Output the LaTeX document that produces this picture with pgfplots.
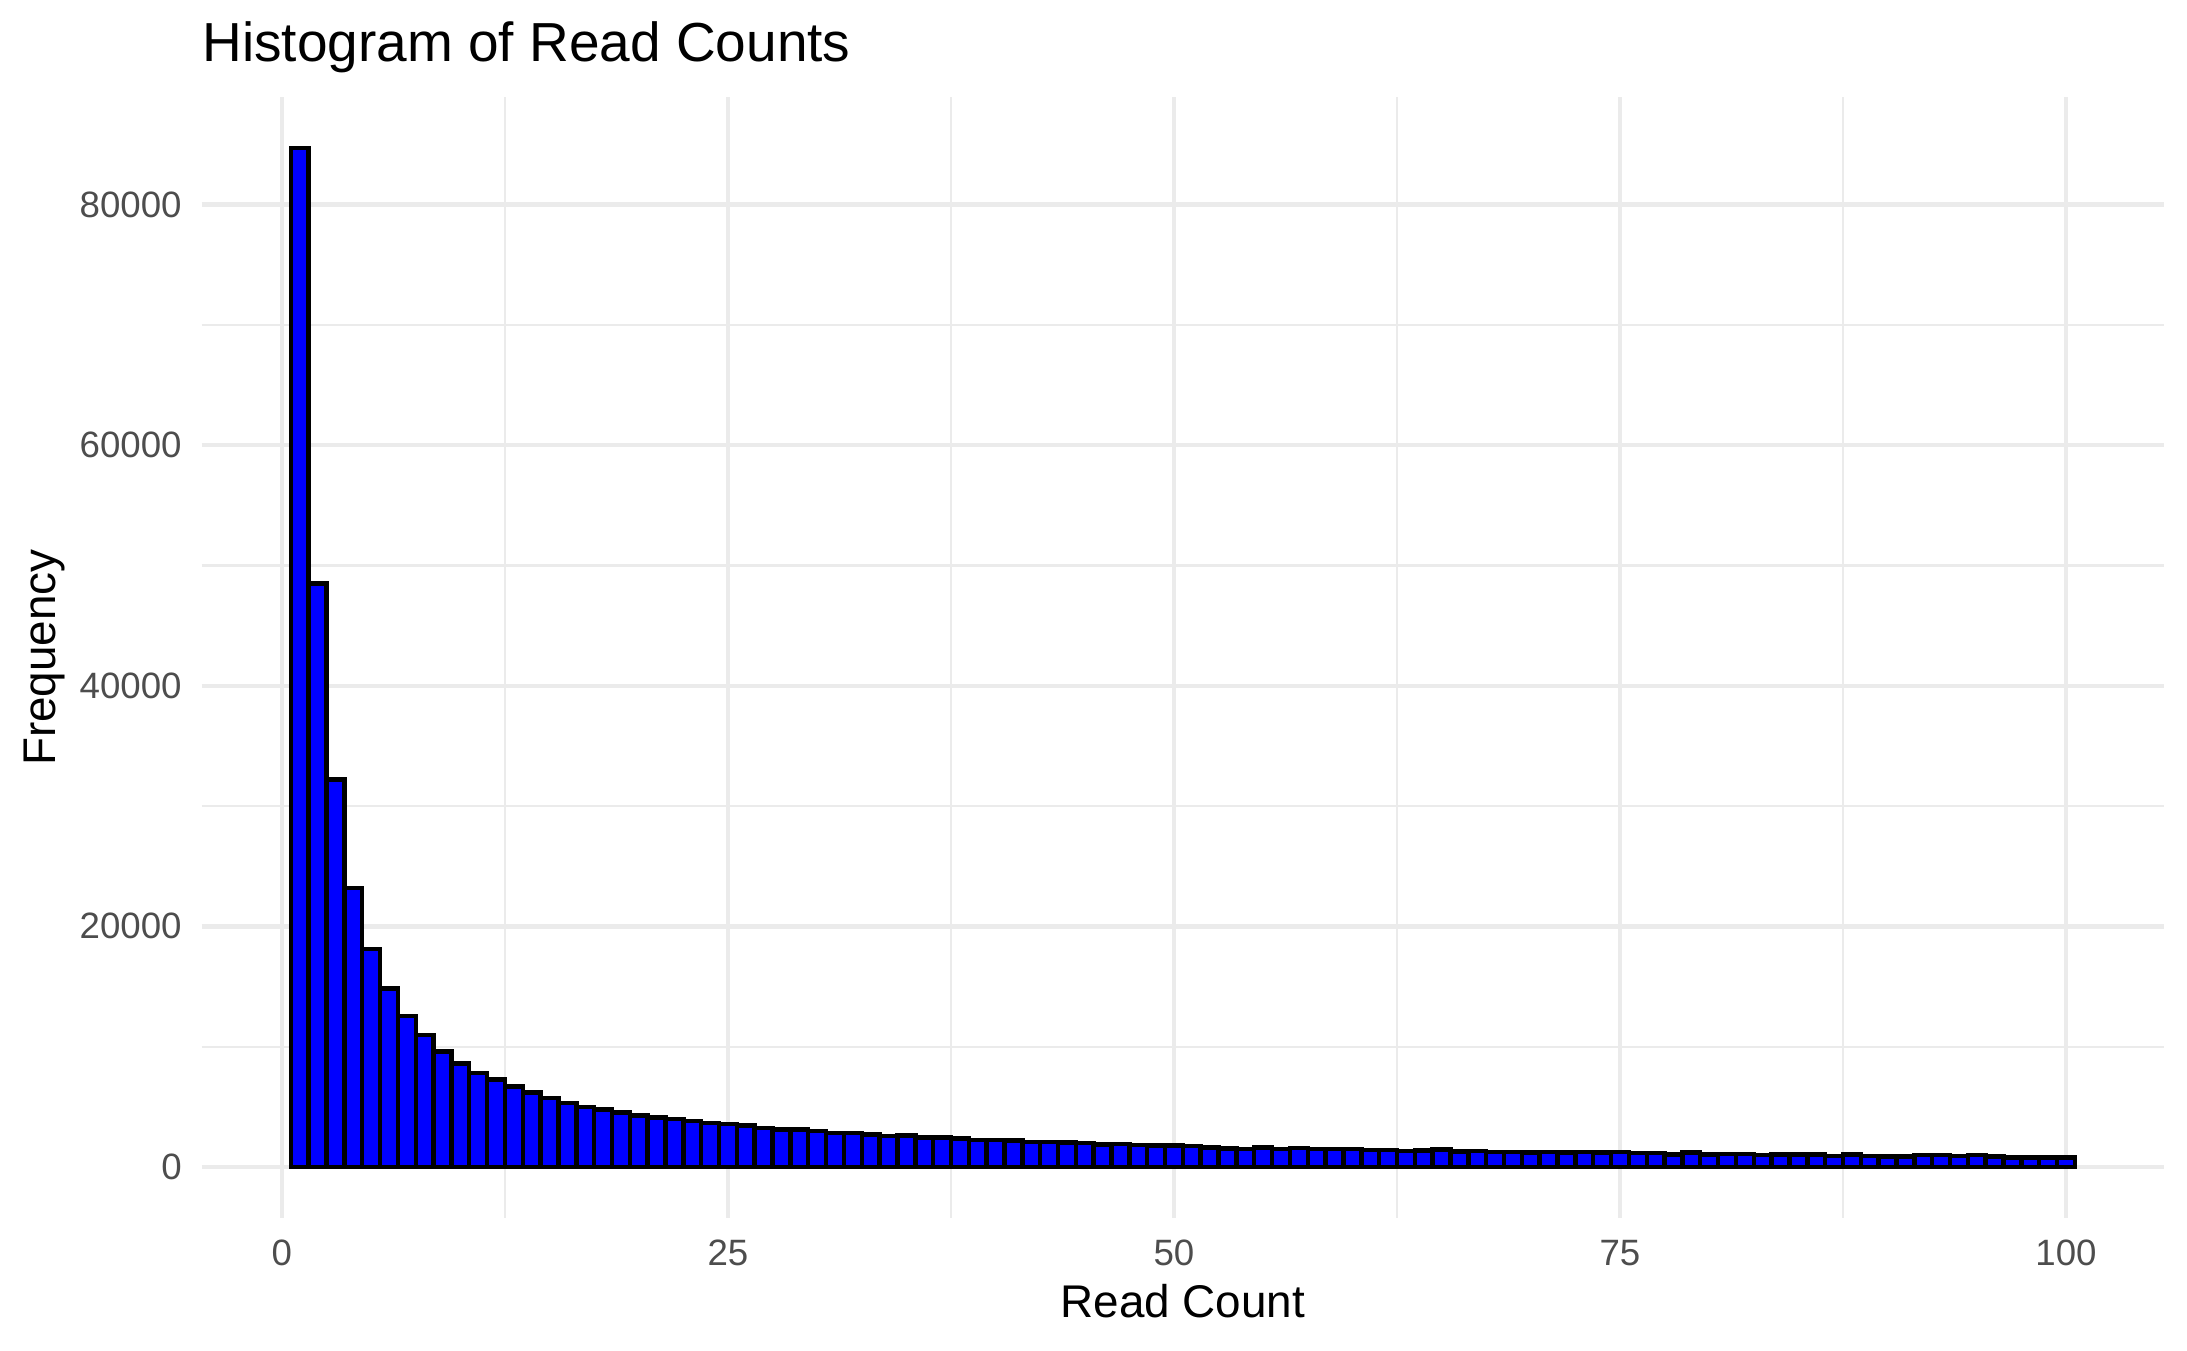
\documentclass[border=0pt]{standalone}
\usepackage{pgfplots}
\pgfplotsset{compat=1.18}
\usepackage{fontspec}
\setmainfont{Liberation Sans}
\definecolor{gridc}{HTML}{EBEBEB}
\definecolor{tickc}{HTML}{4D4D4D}

\begin{document}
\begin{tikzpicture}
\begin{axis}[
  scale only axis, width=471pt, height=269pt,
  xmin=-4.5, xmax=105.5, ymin=-4235, ymax=88935,
  axis line style={draw=none},
  major tick length=0pt, minor tick length=0pt,
  xtick={0,25,50,75,100}, xticklabels={0,25,50,75,100},
  ytick={0,20000,40000,60000,80000}, yticklabels={0,20000,40000,60000,80000},
  minor xtick={12.5,37.5,62.5,87.5}, minor ytick={10000,30000,50000,70000},
  scaled y ticks=false, scaled x ticks=false,
  grid=both,
  major grid style={draw=gridc, line width=1.07pt},
  minor grid style={draw=gridc, line width=0.53pt},
  tick label style={font=\fontsize{8.8}{10}\selectfont, text=tickc, inner sep=0pt},
  yticklabel style={anchor=east, xshift=-4.6pt},
  xticklabel style={anchor=north, yshift=-5.2pt},
  xlabel={Read Count},
  xlabel style={at={(axis description cs:0.5,-0.0892)}, anchor=base, font=\fontsize{11}{13}\selectfont, inner sep=0pt},
  ylabel={Frequency},
  ylabel style={at={(axis description cs:-0.0743,0.5)}, anchor=base, rotate=0, font=\fontsize{11}{13}\selectfont, inner sep=0pt},
  clip=false,
]
\addplot[ybar, bar width=1, bar shift=0pt, fill=blue, draw=black, line width=1.07pt] table {
x y
1 84700
2 48500
3 32200
4 23200
5 18100
6 14850
7 12550
8 10950
9 9600
10 8600
11 7810
12 7260
13 6700
14 6200
15 5710
16 5320
17 4990
18 4790
19 4540
20 4270
21 4100
22 3990
23 3800
24 3660
25 3570
26 3430
27 3240
28 3100
29 3100
30 2990
31 2830
32 2830
33 2710
34 2550
35 2600
36 2440
37 2440
38 2350
39 2240
40 2220
41 2190
42 2080
43 2080
44 2050
45 1970
46 1880
47 1910
48 1830
49 1770
50 1770
51 1740
52 1610
53 1550
54 1500
55 1630
56 1500
57 1580
58 1500
59 1470
60 1500
61 1390
62 1410
63 1330
64 1385
65 1440
66 1300
67 1330
68 1250
69 1250
70 1190
71 1250
72 1190
73 1250
74 1190
75 1250
76 1140
77 1140
78 1030
79 1190
80 1030
81 1080
82 1080
83 970
84 1030
85 1050
86 1030
87 915
88 1030
89 915
90 860
91 860
92 970
93 970
94 915
95 970
96 860
97 800
98 800
99 800
100 800
};
\node[anchor=base west, inner sep=0pt, font=\fontsize{13.2}{15}\selectfont] at (rel axis cs:0,1.0316) {Histogram of Read Counts};
\end{axis}
\pgfresetboundingbox
\path[use as bounding box] (current axis.south west) ++(-48.4pt,-31.9pt) rectangle ++(524.9pt,324.2pt);
\end{tikzpicture}
\end{document}
